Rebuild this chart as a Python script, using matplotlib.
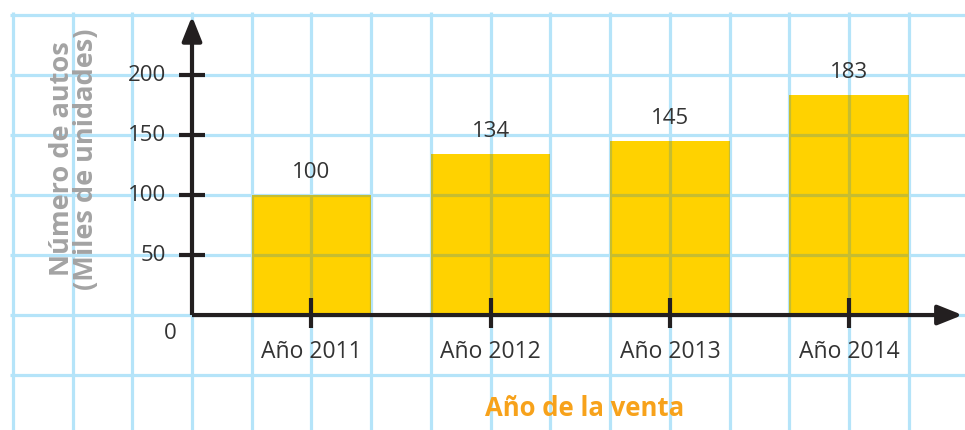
import numpy as np
import matplotlib
matplotlib.use("Agg")
import matplotlib.pyplot as plt
from matplotlib.patches import FancyArrowPatch

years = ["Año 2011", "Año 2012", "Año 2013", "Año 2014"]
autos = [100, 134, 145, 183]
y_ticks = [50, 100, 150, 200]

GRID = "#b5e4f9"
GRID_ON_BAR = "#c6bd30"
BAR = "#ffd200"
INK = "#231f20"
TEXT = "#333333"

plt.rcParams["font.family"] = ["Open Sans", "DejaVu Sans"]

fig = plt.figure(figsize=(9.65, 4.3), dpi=100)
ax = fig.add_axes([0, 0, 1, 1])
ax.set_xlim(-3.214, 12.94)
ax.set_ylim(-95.8, 262.5)
ax.axis("off")

# squared paper background
gx = np.arange(-3, 13)
gy = np.arange(-50, 251, 50)
ax.vlines(gx, -100, 252.5, color=GRID, lw=2.3, zorder=0)
ax.hlines(gy, -3.05, 13, color=GRID, lw=2.3, zorder=0)

pos = 2 + 3 * np.arange(len(years))
bars = ax.bar(pos, autos, width=2, color=BAR, zorder=1)
for b in bars:
    v = ax.vlines(gx, -100, 252.5, color=GRID_ON_BAR, lw=2.3, zorder=1.5)
    h = ax.hlines(gy, -3.05, 13, color=GRID_ON_BAR, lw=2.3, zorder=1.5)
    v.set_clip_path(b)
    h.set_clip_path(b)

# axes with arrow heads
for start, end in [((0, 0), (12.9, 0)), ((0, 0), (0, 249))]:
    ax.add_patch(FancyArrowPatch(start, end, arrowstyle="-|>,head_length=15,head_width=6",
                                 mutation_scale=1, color=INK, lw=3, zorder=3,
                                 shrinkA=0, shrinkB=0, capstyle="butt"))

ax.hlines(y_ticks, -0.22, 0.22, color=INK, lw=3, zorder=3)
ax.vlines(pos, -11, 14, color=INK, lw=3, zorder=3)

for t in y_ticks:
    ax.text(-0.44, t, str(t), ha="right", va="center", fontsize=16, color=TEXT)
ax.text(-0.37, -15, "0", ha="center", va="center", fontsize=16, color=TEXT)

for x, lab, v in zip(pos, years, autos):
    ax.text(x, -31, lab, ha="center", va="center", fontsize=16.5, color=TEXT)
    ax.text(x, v + 19, str(v), ha="center", va="center", fontsize=16, color=TEXT)

ax.text(-1.98, 130, "Número de autos\n(Miles de unidades)", rotation=90,
        ha="center", va="center", fontsize=19.5, fontweight="bold",
        color="#a3a3a3", linespacing=0.92)
ax.text(6.57, -77.5, "Año de la venta", ha="center", va="center", fontsize=18.5,
        fontweight="bold", color="#f7a21b")

fig.savefig("out.png", dpi=100)
